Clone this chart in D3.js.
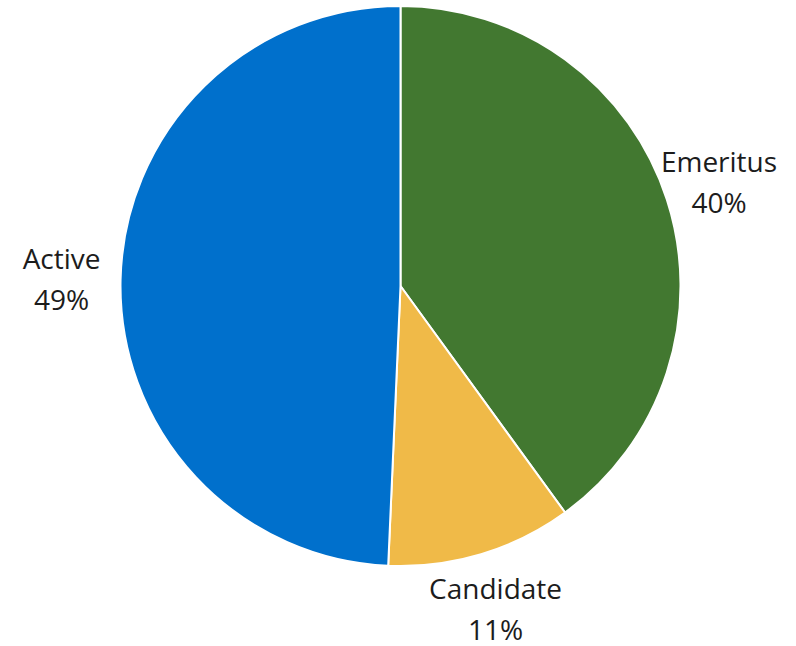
<!DOCTYPE html>
<html>
<head>
<meta charset="utf-8">
<script src="https://cdn.jsdelivr.net/npm/d3@7"></script>
<style>
html,body{margin:0;padding:0;background:#fff;}
svg{display:block;}
</style>
</head>
<body>
<svg id="chart" width="796" height="646"></svg>
<script>
const categories = ["Emeritus", "Candidate", "Active"];
const values = [40.0, 10.7, 49.3];
const percentLabels = ["40%", "11%", "49%"];
const colors = ["#427830", "#F0BA48", "#0070CC"];

const svg = d3.select("#chart");
const cx = 400.5, cy = 286, r = 280, labelR = 337;
const g = svg.append("g").attr("transform", `translate(${cx},${cy})`);

const pie = d3.pie().sort(null).value(d => d.v);
const data = pie(categories.map((c, i) => ({c, v: values[i], p: percentLabels[i], col: colors[i]})));
const arc = d3.arc().innerRadius(0).outerRadius(r);
const labelArc = d3.arc().innerRadius(labelR).outerRadius(labelR);

g.selectAll("path").data(data).enter().append("path")
  .attr("d", arc)
  .attr("fill", d => d.data.col)
  .attr("stroke", "#fff")
  .attr("stroke-width", 2)
  .attr("stroke-linejoin", "round");

const lab = g.selectAll("text.lab").data(data).enter().append("text")
  .attr("class", "lab")
  .attr("text-anchor", "middle")
  .attr("font-family", "'Open Sans', sans-serif")
  .attr("font-size", 28)
  .attr("fill", "#1c1c1c")
  .attr("transform", d => { const [x, y] = labelArc.centroid(d); return `translate(${x - 2},${y})`; });
lab.append("tspan").attr("x", 0).attr("y", -10).text(d => d.data.c);
lab.append("tspan").attr("x", 0).attr("y", 31).text(d => d.data.p);
</script>
</body>
</html>
